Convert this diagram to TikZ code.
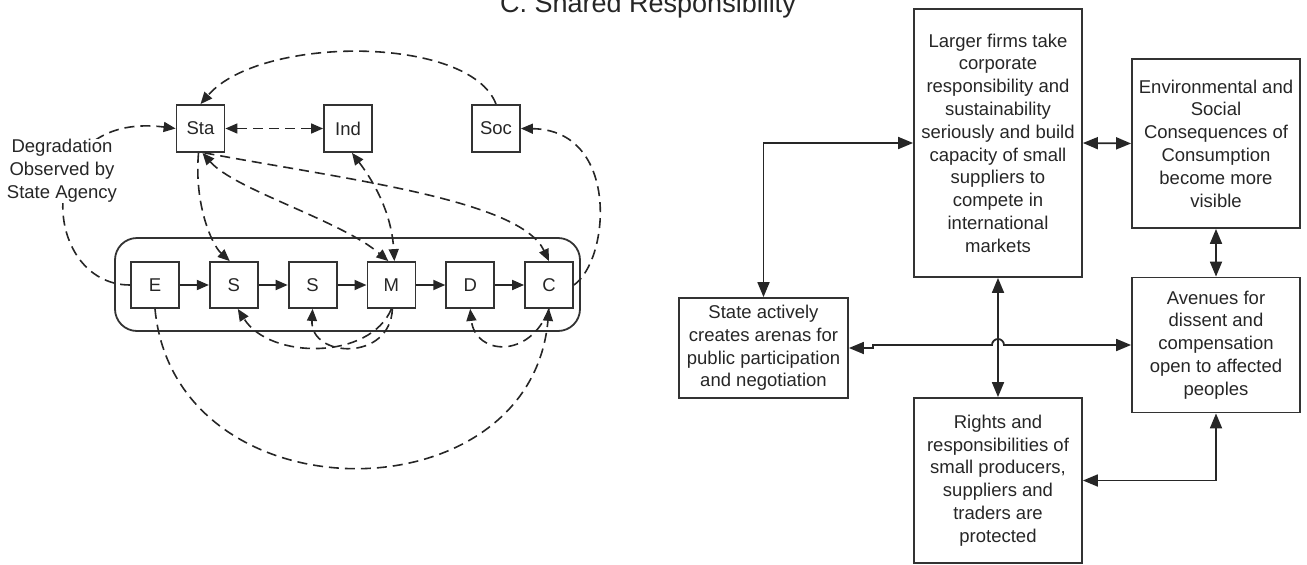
\documentclass[tikz,border=0pt]{standalone}
\usepackage{fontspec}
\setmainfont{Liberation Sans}
\usetikzlibrary{arrows.meta,positioning}

\begin{document}
\begin{tikzpicture}[x=1pt,y=-1pt,
every node/.style={align=center,text=black!85,font=\fontsize{18.5}{22.8}\selectfont},
box/.style={shape=rectangle,draw=black!80,line width=1.8pt,inner sep=0},
small/.style={box,minimum width=48pt,minimum height=46pt},
big/.style={box,minimum width=168pt},
dlink/.style={draw=black!85,line width=1.6pt,dash pattern=on 10pt off 6pt,>={Triangle[length=12pt,width=10pt]}},
flow/.style={draw=black!85,line width=1.8pt,>={Triangle[length=15pt,width=12pt]}}]

\useasboundingbox (0,0) rectangle (1307,565);
\clip (0,0) rectangle (1307,565);

\node [anchor=base,font=\fontsize{27}{30}\selectfont] (title) at (648,12) {C. Shared Responsibility};

% left: actors and the chain
\node [small,minimum height=47pt] (sta) at (200.5,128.5) {Sta};
\node [small,minimum height=47pt] (ind) at (348,128.5) {Ind};
\node [small,minimum height=47pt] (soc) at (496,128.5) {Soc};

\node [box,rounded corners=22pt,minimum width=465pt,minimum height=93pt] (chain) at (347.5,284.5) {};
\node [small] (e) at (155,285) {E};
\node [small,right=29pt of e] (s1) {S};
\node [small,right=29pt of s1] (s2) {S};
\node [small,right=29pt of s2] (m) {M};
\node [small,right=29pt of m] (d) {D};
\node [small,right=29pt of d] (c) {C};

\foreach \a/\b in {e/s1,s1/s2,s2/m,m/d,d/c}
    \draw [flow,>={Triangle[length=12pt,width=10pt]},->] (\a) -- (\b);

\path [dlink,->] (e.west) .. controls (40,285) and (30,110) .. (sta.west);
\node [fill=white,inner sep=1pt] (degr) at (62,171) {Degradation\\Observed by\\State Agency};

\path [dlink,->] (soc.north) .. controls (470,35) and (260,35) .. (sta.north);
\path [dlink,<->] (sta.east) -- (ind.west);
\path [dlink,->] ([xshift=-2pt]sta.south) .. controls (194,205) and (212,245) .. ([xshift=-4pt]s1.north);
\path [dlink,<->] ([xshift=2pt]sta.south) .. controls (235,190) and (340,220) .. ([xshift=-3pt]m.north);
\path [dlink,->] ([xshift=4pt]sta.south) .. controls (350,180) and (520,200) .. (c.north);
\path [dlink,<->] ([xshift=4pt]ind.south) .. controls (380,190) and (392,220) .. ([xshift=3pt]m.north);
\path [dlink,->] (c.east) .. controls (610,260) and (620,130) .. (soc.east);
\path [dlink,->] (m.south) .. controls (370,360) and (270,360) .. ([xshift=4pt]s1.south);
\path [dlink,->] ([xshift=1pt]m.south) .. controls (390,362) and (310,358) .. (s2.south);
\path [dlink,->] (c.south) .. controls (530,360) and (475,355) .. (d.south);
\path [dlink,->] (e.south) .. controls (175,520) and (530,520) .. (c.south);

% right: outcomes
\node [big,minimum height=268pt] (larger) at (998,143) {Larger firms take\\corporate\\responsibility and\\sustainability\\seriously and build\\capacity of small\\suppliers to\\compete in\\international\\markets};
\node [big,minimum height=169pt] (env) at (1216,143.5) {Environmental and\\Social\\Consequences of\\Consumption\\become more\\visible};
\node [big,minimum height=135pt] (aven) at (1216,345) {Avenues for\\dissent and\\compensation\\open to affected\\peoples};
\node [big,minimum width=169pt,minimum height=100pt] (state) at (763.5,348) {State actively\\creates arenas for\\public participation\\and negotiation};
\node [big,minimum height=165pt] (rights) at (998,480.5) {Rights and\\responsibilities of\\small producers,\\suppliers and\\traders are\\protected};

\draw [flow,<->] (state.north) |- (larger.west);
\draw [flow,<->] (larger.east) -- (env.west);
\draw [flow,<->] (env.south) -- (aven.north);
\draw [flow,<->] (larger.south) -- (rights.north);
\draw [flow,<->] (state.east) -- ++(24,0) -- ++(0,-3) -- (992,345) arc [start angle=180,end angle=360,radius=6] -- (aven.west);
\draw [flow,<->] (aven.south) |- (rights.east);

\end{tikzpicture}
\end{document}
